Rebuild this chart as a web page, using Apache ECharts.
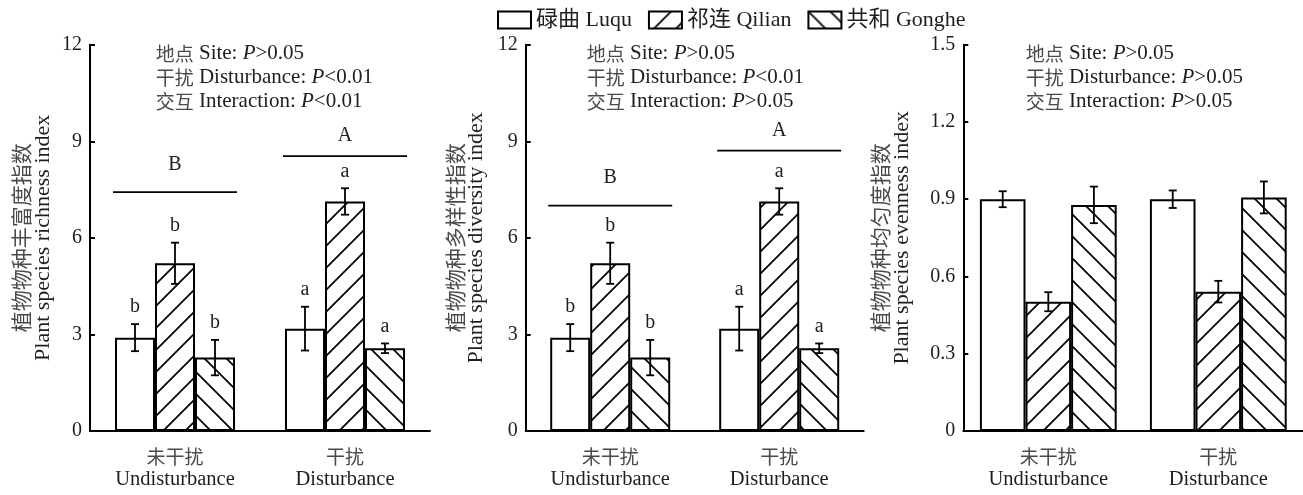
<!DOCTYPE html>
<html><head><meta charset="utf-8">
<script src="https://cdn.jsdelivr.net/npm/echarts@6/dist/echarts.min.js"></script>
<style>html,body{margin:0;padding:0;background:#fff}#c{width:1303px;height:495px}</style>
</head><body><div id="c"></div>
<script>
// ---------- data ----------
const categories = ['未干扰|Undisturbance', '干扰|Disturbance'];
const sites = ['碌曲 Luqu', '祁连 Qilian', '共和 Gonghe'];

// richness index
const richLuqu = [2.90, 3.18], richLuquErr = [0.42, 0.68], richLuquLet = ['b', 'a'];
const richQilian = [5.21, 7.13], richQilianErr = [0.64, 0.41], richQilianLet = ['b', 'a'];
const richGonghe = [2.28, 2.57], richGongheErr = [0.55, 0.15], richGongheLet = ['b', 'a'];
const richGroupLetters = ['B', 'A'], richGroupLine = [7.42, 8.54], richGroupLetterY = [8.06, 8.94];

// diversity index
const divLuqu = [2.90, 3.18], divLuquErr = [0.42, 0.68], divLuquLet = ['b', 'a'];
const divQilian = [5.21, 7.13], divQilianErr = [0.64, 0.41], divQilianLet = ['b', 'a'];
const divGonghe = [2.28, 2.57], divGongheErr = [0.55, 0.15], divGongheLet = ['b', 'a'];
const divGroupLetters = ['B', 'A'], divGroupLine = [7.00, 8.71], divGroupLetterY = [7.65, 9.10];

// evenness index
const evLuqu = [0.900, 0.900], evLuquErr = [0.031, 0.034];
const evQilian = [0.502, 0.541], evQilianErr = [0.037, 0.042];
const evGonghe = [0.878, 0.907], evGongheErr = [0.071, 0.062];

// axes
const richTicks = {min: 0, max: 12, interval: 3};
const evTicks = {min: 0, max: 1.5, interval: 0.3};

const yNames = [
  ['植物物种丰富度指数', 'Plant species richness index'],
  ['植物物种多样性指数', 'Plant species diversity index'],
  ['植物物种均匀度指数', 'Plant species evenness index']
];
const annotations = [
  [['地点', 'Site: ', '>0.05'], ['干扰', 'Disturbance: ', '<0.01'], ['交互', 'Interaction: ', '<0.01']],
  [['地点', 'Site: ', '>0.05'], ['干扰', 'Disturbance: ', '<0.01'], ['交互', 'Interaction: ', '>0.05']],
  [['地点', 'Site: ', '>0.05'], ['干扰', 'Disturbance: ', '>0.05'], ['交互', 'Interaction: ', '>0.05']]
];

// ---------- styles ----------
const FONT = "'Liberation Serif','Noto Sans CJK SC',serif";
const CJK = "'Noto Sans CJK SC','Liberation Serif',sans-serif";
const TXT = '#1e1e1e', CTXT = '#4a4a4a';

function hatch(dir) {
  const s = 22, c = document.createElement('canvas');
  c.width = c.height = s;
  const g = c.getContext('2d');
  g.fillStyle = '#fff'; g.fillRect(0, 0, s, s);
  g.strokeStyle = '#000'; g.lineWidth = 1.7; g.beginPath();
  if (dir === '/') {
    g.moveTo(-2, s + 2); g.lineTo(s + 2, -2);
    g.moveTo(-2, 2); g.lineTo(2, -2);
    g.moveTo(s - 2, s + 2); g.lineTo(s + 2, s - 2);
  } else {
    g.moveTo(-2, -2); g.lineTo(s + 2, s + 2);
    g.moveTo(s - 2, -2); g.lineTo(s + 2, 2);
    g.moveTo(-2, s - 2); g.lineTo(2, s + 2);
  }
  g.stroke();
  return c;
}
const fills = ['#ffffff', {image: hatch('/'), repeat: 'repeat'}, {image: hatch('\\'), repeat: 'repeat'}];

const panels = [
  {grid: {left: 90, top: 44.7, width: 340, height: 386.3}, bw: 40, ticks: richTicks, nameGap: 36,
   means: [richLuqu, richQilian, richGonghe], errs: [richLuquErr, richQilianErr, richGongheErr],
   lets: [richLuquLet, richQilianLet, richGongheLet],
   gl: richGroupLine, gly: richGroupLetterY, glet: richGroupLetters, annX: 155.7},
  {grid: {left: 525.7, top: 44.7, width: 338, height: 386.3}, bw: 40, ticks: richTicks, nameGap: 38,
   means: [divLuqu, divQilian, divGonghe], errs: [divLuquErr, divQilianErr, divGongheErr],
   lets: [divLuquLet, divQilianLet, divGongheLet],
   gl: divGroupLine, gly: divGroupLetterY, glet: divGroupLetters, annX: 586.7},
  {grid: {left: 963.3, top: 44.7, width: 340, height: 386.3}, bw: 45.6, ticks: evTicks, nameGap: 50,
   means: [evLuqu, evQilian, evGonghe], errs: [evLuquErr, evQilianErr, evGongheErr],
   lets: null, gl: null, annX: 1025.7}
];

const grids = [], xAxes = [], yAxes = [], series = [], graphics = [];
panels.forEach((p, pi) => {
  grids.push(Object.assign({containLabel: false, outerBoundsMode: 'none'}, p.grid));
  xAxes.push({
    type: 'category', gridIndex: pi, data: categories,
    axisLine: {show: true, lineStyle: {color: '#000', width: 2}},
    axisTick: {show: false}, splitLine: {show: false},
    axisLabel: {
      margin: 14, interval: 0,
      formatter: v => { const s = v.split('|'); return '{c|' + s[0] + '}\n{e|' + s[1] + '}'; },
      rich: {
        c: {fontFamily: CJK, fontSize: 19, color: CTXT, lineHeight: 23, align: 'center'},
        e: {fontFamily: FONT, fontSize: 20.5, color: TXT, lineHeight: 23, align: 'center'}
      }
    }
  });
  yAxes.push({
    type: 'value', gridIndex: pi, min: p.ticks.min, max: p.ticks.max, interval: p.ticks.interval,
    axisLine: {show: true, lineStyle: {color: '#000', width: 2}},
    axisTick: {show: true, inside: true, length: 5, lineStyle: {color: '#000', width: 2}},
    splitLine: {show: false},
    axisLabel: {margin: 8, fontFamily: FONT, fontSize: 20, color: TXT,
      formatter: v => (p.ticks.interval < 1 ? (v === 0 ? '0' : v.toFixed(1)) : String(v))},
    name: '{c|' + yNames[pi][0] + '}\n{e|' + yNames[pi][1] + '}',
    nameLocation: 'middle', nameRotate: 90, nameGap: p.nameGap,
    nameTextStyle: {
      rich: {
        c: {fontFamily: CJK, fontSize: 21, color: CTXT, lineHeight: 22, align: 'center'},
        e: {fontFamily: FONT, fontSize: 22, color: TXT, lineHeight: 22, align: 'center'}
      }
    }
  });
  // bars
  for (let k = 0; k < 3; k++) {
    series.push({
      type: 'bar', name: sites[k], xAxisIndex: pi, yAxisIndex: pi,
      data: p.means[k], barWidth: p.bw, barGap: '0%',
      itemStyle: {color: fills[k], borderColor: '#000', borderWidth: 2},
      emphasis: {disabled: true}, z: 2
    });
  }
  // error bars + letters
  const items = [];
  for (let k = 0; k < 3; k++) for (let c = 0; c < 2; c++) {
    items.push({cat: c, site: k, mean: p.means[k][c], err: p.errs[k][c], letter: p.lets ? p.lets[k][c] : ''});
  }
  series.push({
    type: 'custom', xAxisIndex: pi, yAxisIndex: pi, z: 5, silent: true,
    data: items.map(d => [d.cat, d.mean]), encode: {x: 0, y: 1},
    renderItem: (params, api) => {
      const d = items[params.dataIndex];
      const cx = api.coord([d.cat, d.mean])[0] + (d.site - 1) * p.bw;
      const yT = api.coord([d.cat, d.mean + d.err])[1];
      const yB = api.coord([d.cat, d.mean - d.err])[1];
      const st = {stroke: '#000', lineWidth: 1.8};
      const ch = [
        {type: 'line', shape: {x1: cx, y1: yT, x2: cx, y2: yB}, style: st},
        {type: 'line', shape: {x1: cx - 4, y1: yT, x2: cx + 4, y2: yT}, style: st},
        {type: 'line', shape: {x1: cx - 4, y1: yB, x2: cx + 4, y2: yB}, style: st}
      ];
      if (d.letter) ch.push({type: 'text', style: {text: d.letter, x: cx, y: yT - 7,
        align: 'center', verticalAlign: 'bottom', font: '20px ' + FONT, fill: TXT}});
      return {type: 'group', children: ch};
    }
  });
  // group lines
  if (p.gl) {
    series.push({
      type: 'custom', xAxisIndex: pi, yAxisIndex: pi, z: 5, silent: true,
      data: p.gl.map((v, i) => [i, v]), encode: {x: 0, y: 1},
      renderItem: (params, api) => {
        const i = params.dataIndex;
        const c = api.coord([i, p.gl[i]]);
        const ly = api.coord([i, p.gly[i]])[1];
        return {type: 'group', children: [
          {type: 'line', shape: {x1: c[0] - 62, y1: c[1], x2: c[0] + 62, y2: c[1]}, style: {stroke: '#000', lineWidth: 1.8}},
          {type: 'text', style: {text: p.glet[i], x: c[0], y: ly + 3, align: 'center', verticalAlign: 'bottom',
            font: '20px ' + FONT, fill: TXT}}
        ]};
      }
    });
  }
  // annotations
  annotations[pi].forEach((a, li) => {
    graphics.push({
      type: 'text', left: p.annX, top: 55 + li * 24 - 12, silent: true,
      style: {
        text: '{c|' + a[0] + '} ' + a[1] + '{i|P}' + a[2],
        font: '21px ' + FONT, fill: TXT,
        rich: {
          c: {fontFamily: CJK, fontSize: 19, fill: CTXT, color: CTXT},
          i: {fontFamily: FONT, fontSize: 21, fontStyle: 'italic', fill: TXT, color: TXT}
        }
      }
    });
  });
});

const chart = echarts.init(document.getElementById('c'), null, {renderer: 'canvas'});
chart.setOption({
  animation: false,
  backgroundColor: '#fff',
  textStyle: {fontFamily: FONT, color: TXT},
  legend: {
    data: sites, left: 497, top: 9, padding: 0, itemGap: 16, itemWidth: 33, itemHeight: 17,
    icon: 'rect', selectedMode: false,
    textStyle: {fontFamily: FONT, fontSize: 22, color: TXT, padding: [0, 0, 0, 0]}
  },
  grid: grids, xAxis: xAxes, yAxis: yAxes, series: series, graphic: graphics
});
</script></body></html>
